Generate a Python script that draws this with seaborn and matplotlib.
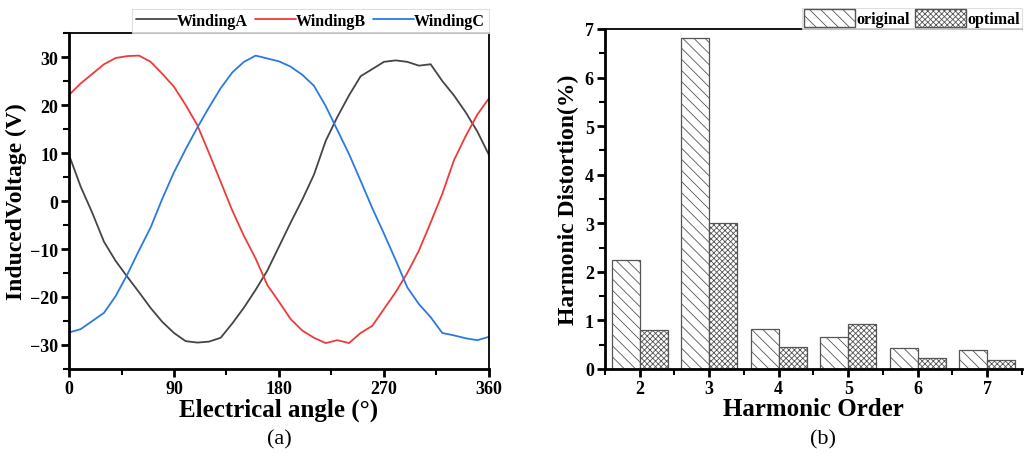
import numpy as np
import pandas as pd
import seaborn as sns
import matplotlib.pyplot as plt
from matplotlib.patches import Patch
from matplotlib.ticker import MultipleLocator

# electrical angle (deg) and the three induced voltages (V), read every 10 deg
angle = list(range(0, 361, 10))
winding_a = [9.6, 3.0, -2.5, -8.5, -12.5, -15.8, -19.0, -22.3, -25.2, -27.5,
             -29.2, -29.5, -29.3, -28.5, -25.5, -22.2, -18.5, -14.5, -9.5, -4.5,
             0.3, 5.5, 12.5, 17.5, 22.0, 26.0, 27.5, 29.0, 29.3, 29.0,
             28.2, 28.5, 25.0, 22.0, 18.5, 14.5, 9.6]
winding_b = [22.1, 24.5, 26.5, 28.5, 29.8, 30.2, 30.3, 29.0, 26.5, 23.8,
             20.0, 15.8, 10.0, 4.0, -2.0, -7.3, -12.0, -17.5, -21.0, -24.6,
             -27.0, -28.5, -29.6, -29.0, -29.6, -27.5, -26.0, -22.5, -19.0, -15.0,
             -10.3, -4.5, 1.5, 8.5, 13.5, 18.0, 21.4]
winding_c = [-27.4, -26.7, -25.0, -23.3, -19.8, -15.3, -10.3, -5.5, 0.5, 6.0,
             10.8, 15.3, 19.5, 23.5, 26.8, 29.0, 30.3, 29.7, 29.1, 28.0,
             26.3, 24.0, 19.8, 14.8, 9.8, 4.2, -1.5, -6.8, -12.3, -18.0,
             -21.5, -24.2, -27.5, -28.0, -28.6, -29.0, -28.3]
winding_names = ['WindingA', 'WindingB', 'WindingC']
winding_colors = ['#454545', '#f03a3a', '#2a7ae2']

# harmonic distortion (%)
harmonic_order = ['2', '3', '4', '5', '6', '7']
original = [2.25, 6.82, 0.82, 0.65, 0.43, 0.40]
optimal = [0.80, 3.00, 0.45, 0.93, 0.22, 0.18]

sns.set_theme(style='ticks')
plt.rcParams['font.family'] = ['Liberation Serif', 'DejaVu Serif']
plt.rcParams['font.weight'] = 'bold'
plt.rcParams['axes.labelweight'] = 'bold'
plt.rcParams['text.color'] = 'black'
plt.rcParams['axes.labelcolor'] = 'black'
plt.rcParams['hatch.linewidth'] = 0.6

fig = plt.figure(figsize=(10.24, 4.6), dpi=100)
ax1 = fig.add_axes([0.0674, 0.1957, 0.4101, 0.7303])
ax2 = fig.add_axes([0.5908, 0.1957, 0.4072, 0.7391])

# (a) induced voltage
df_v = pd.DataFrame({
    'angle': angle * 3,
    'voltage': winding_a + winding_b + winding_c,
    'winding': np.repeat(winding_names, len(angle)),
})
sns.lineplot(data=df_v, x='angle', y='voltage', hue='winding',
             palette=winding_colors, linewidth=1.3, ax=ax1)
ax1.set_xlim(0, 360)
ax1.set_ylim(-35, 35)
ax1.set_xticks([0, 90, 180, 270, 360])
ax1.xaxis.set_minor_locator(MultipleLocator(45))
ax1.set_yticks([-30, -20, -10, 0, 10, 20, 30])
ax1.yaxis.set_minor_locator(MultipleLocator(5))
ax1.set_xlabel('Electrical angle (°)', fontsize=18, labelpad=0)
ax1.set_ylabel('InducedVoltage (V)', fontsize=17, labelpad=2)
leg1 = ax1.legend(loc='lower right', bbox_to_anchor=(1.0, 1.0), ncol=3,
                  frameon=True, fancybox=False, borderaxespad=0,
                  handlelength=2.6, handletextpad=0.0, columnspacing=0.4,
                  borderpad=0.25, prop={'size': 11.5, 'weight': 'bold'})
leg1.get_frame().set_edgecolor('#d8d8d8')
leg1.get_frame().set_linewidth(0.8)

# (b) harmonic distortion
df_h = pd.DataFrame({
    'order': harmonic_order * 2,
    'distortion': original + optimal,
    'type': ['original'] * len(harmonic_order) + ['optimal'] * len(harmonic_order),
})
sns.barplot(data=df_h, x='order', y='distortion', hue='type',
            palette=['white', 'white'], edgecolor='#555555', linewidth=0.9,
            width=0.8, ax=ax2, legend=False)
hatches = {'original': '\\\\\\', 'optimal': 'xxxxxx'}
n = len(harmonic_order)
for i, bar in enumerate(ax2.patches[:2 * n]):
    bar.set_hatch(hatches['original'] if i < n else hatches['optimal'])
ax2.set_xlim(-0.47, 5.47)
ax2.set_ylim(0, 7)
ax2.yaxis.set_minor_locator(MultipleLocator(0.5))
ax2.set_xticks(np.arange(-0.5, 5.6, 1.0), minor=True)
ax2.set_xlabel('Harmonic Order', fontsize=18, labelpad=0)
ax2.set_ylabel('Harmonic Distortion(%)', fontsize=17, labelpad=4)
handles = [Patch(facecolor='white', edgecolor='#555555', hatch=hatches['original'], label='original'),
           Patch(facecolor='white', edgecolor='#555555', hatch=hatches['optimal'], label='optimal')]
leg2 = ax2.legend(handles=handles, loc='lower right', bbox_to_anchor=(1.0, 1.0), ncol=2,
                  frameon=True, fancybox=False, borderaxespad=0,
                  handlelength=3.2, handleheight=1.3, handletextpad=0.1, columnspacing=0.3,
                  borderpad=0.1, prop={'size': 11.5, 'weight': 'bold'})
leg2.get_frame().set_edgecolor('#d8d8d8')
leg2.get_frame().set_linewidth(0.8)

for ax in (ax1, ax2):
    for side in ('left', 'bottom'):
        ax.spines[side].set_linewidth(2.0)
    for side in ('top', 'right'):
        ax.spines[side].set_linewidth(1.3)
    ax.spines[['left', 'bottom', 'top', 'right']].set_color('black')
    ax.tick_params(which='major', direction='out', length=6, width=2,
                   labelsize=13, pad=2, color='black', labelcolor='black')
    ax.tick_params(which='minor', direction='out', length=4, width=1.5, color='black')
    for lab in ax.get_xticklabels() + ax.get_yticklabels():
        lab.set_fontweight('bold')
ax2.spines['right'].set_visible(False)

fig.text(279 / 1024, 1 - 440 / 460, '(a)', ha='center', va='center',
         fontsize=16, fontweight='normal')
fig.text(823 / 1024, 1 - 440 / 460, '(b)', ha='center', va='center',
         fontsize=16, fontweight='normal')

fig.savefig('out.png', dpi=100)
